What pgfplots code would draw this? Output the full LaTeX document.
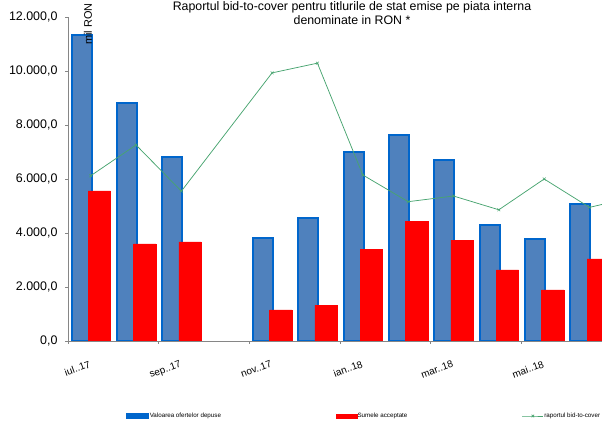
\documentclass[border=0pt]{standalone}
\usepackage{fontspec}
\setmainfont{Liberation Sans}
\usepackage{pgfplots}
\pgfplotsset{compat=1.18}
\definecolor{barblue}{RGB}{79,129,189}
\definecolor{edgeblue}{RGB}{0,102,204}
\definecolor{linegreen}{RGB}{72,164,112}
\definecolor{axgray}{RGB}{134,134,134}
\begin{document}
\begin{tikzpicture}
\path[use as bounding box] (0,0) rectangle (602bp,424bp);
\begin{axis}[
  at={(68bp,83bp)}, anchor=south west, scale only axis,
  width=534bp, height=324bp,
  xmin=-0.5, xmax=11.275, ymin=0, ymax=12000,
  axis x line*=bottom, axis y line*=left,
  axis line style={axgray, line width=0.8bp, -},
  tick align=outside, major tick length=3bp,
  tick style={axgray, line width=0.8bp},
  ytick={0,2000,...,12000},
  scaled y ticks=false,
  yticklabel style={font=\fontsize{12.5}{14}\selectfont, xshift=-4bp},
  /pgf/number format/.cd, fixed, fixed zerofill, precision=1, use comma, 1000 sep={.}, assume math mode=true,
  /pgfplots/.cd,
  xtick={-0.5,1.5,3.5,5.5,7.5,9.5},
  xticklabels={},
  extra x ticks={0,2,4,6,8,10},
  extra x tick labels={iul..17,sep..17,nov..17,ian..18,mar..18,mai..18},
  extra x tick style={major tick length=0pt,
     xticklabel style={rotate=20, anchor=north east, font=\fontsize{10}{12}\selectfont, yshift=-14bp, xshift=-5bp}},
  legend columns=3,
  legend style={at={(axis description cs:0.1086,-0.2315)}, anchor=west, draw=none, fill=none,
     inner sep=0pt, font=\fontsize{6.25}{7}\selectfont,
     nodes={inner sep=0.6bp},
     /tikz/every even column/.append style={column sep=114bp}},
  legend cell align=left,
]
\addplot[ybar, bar width=0.44, bar shift=-0.2, fill=barblue, draw=edgeblue, line width=2bp,
  legend image code/.code={\path[fill=edgeblue] (0bp,-1.6bp) rectangle (21bp,1.6bp);}]
  coordinates {(0,11350) (1,8820) (2,6820) (4,3800) (5,4570) (6,7010) (7,7640) (8,6710) (9,4300) (10,3790) (11,5080)};
\addlegendentry{Valoarea ofertelor depuse}
\addplot[ybar, bar width=0.49, bar shift=0.19, fill=red, draw=red, line width=0.4bp,
  legend image code/.code={\path[fill=red] (0bp,-1.8bp) rectangle (21bp,1.8bp);}]
  coordinates {(0,5560) (1,3600) (2,3670) (4,1150) (5,1330) (6,3400) (7,4440) (8,3740) (9,2630) (10,1890) (11,3040)};
\addlegendentry{Sumele acceptate}
\addlegendimage{linegreen, line width=0.75bp,
  legend image code/.code={\draw[linegreen, line width=0.75bp, mark=x, mark size=1.8bp, mark repeat=2, mark phase=2] plot coordinates {(0bp,0bp) (10.5bp,0bp) (21bp,0bp)};}}
\addlegendentry{raportul bid-to-cover}
\end{axis}
\begin{axis}[
  at={(68bp,83bp)}, anchor=south west, scale only axis,
  width=534bp, height=324bp,
  xmin=-0.5, xmax=11.275, ymin=0, ymax=4,
  hide axis,
]
\addplot[linegreen, line width=0.75bp, mark=x, mark size=2bp, mark options={solid, line width=0.5bp}]
  coordinates {(0,2.04) (1,2.42) (2,1.85) (4,3.31) (5,3.43) (6,2.05) (7,1.72) (8,1.79) (9,1.62) (10,2.0) (11,1.65) (12,1.78)};
\end{axis}
\node[anchor=north, align=center, font=\fontsize{12.4}{13.5}\selectfont, inner sep=0pt] at (352bp,422.5bp)
  {Raportul bid-to-cover pentru titlurile de stat emise pe piata interna\\denominate in RON *};
\node[rotate=90, font=\fontsize{11}{13}\selectfont, inner sep=0pt] at (88bp,400bp) {mil RON};
\end{tikzpicture}
\end{document}
